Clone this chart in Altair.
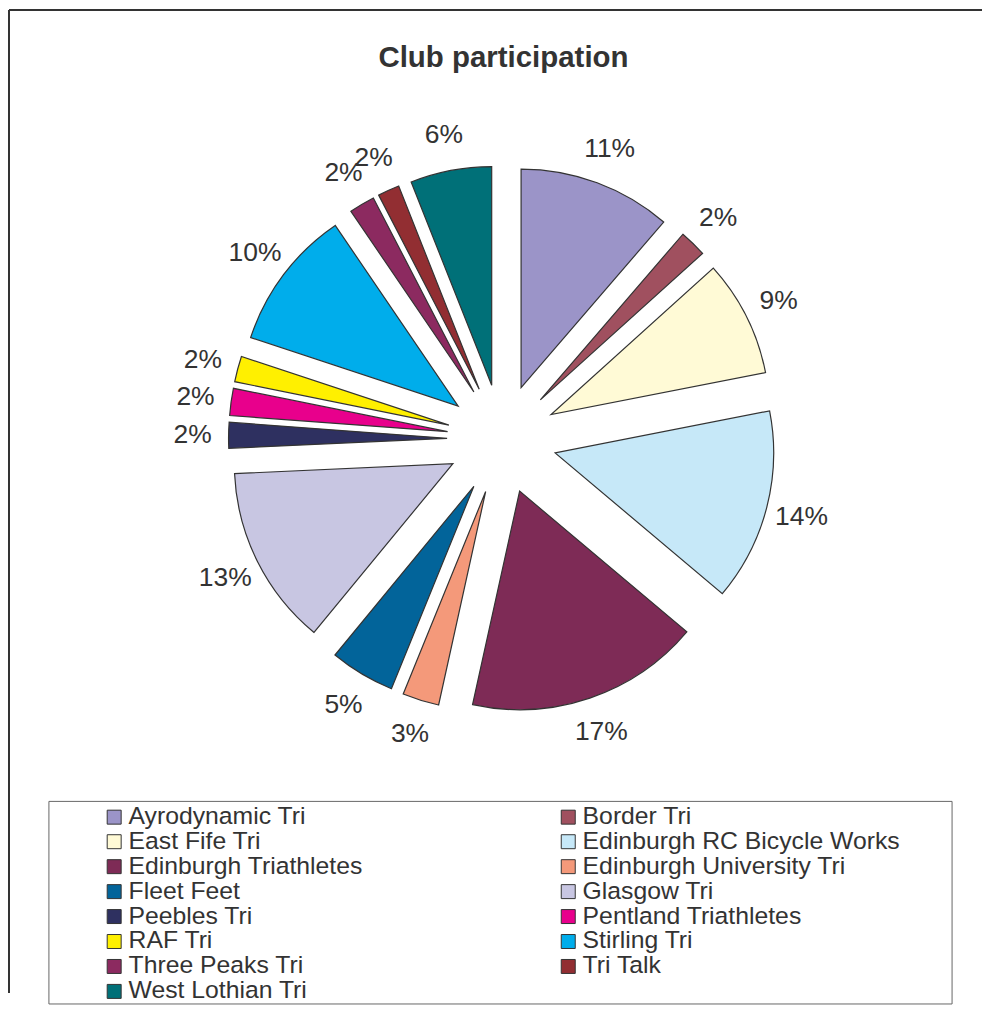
import altair as alt
import pandas as pd

# ---- data ----
clubs = [
    "Ayrodynamic Tri", "Border Tri", "East Fife Tri", "Edinburgh RC Bicycle Works",
    "Edinburgh Triathletes", "Edinburgh University Tri", "Fleet Feet", "Glasgow Tri",
    "Peebles Tri", "Pentland Triathletes", "RAF Tri", "Stirling Tri",
    "Three Peaks Tri", "Tri Talk", "West Lothian Tri",
]
values = [11.3, 2.0, 8.6, 14.2, 17.3, 2.7, 4.8, 13.3, 1.9, 2.0, 1.9, 10.4, 1.9, 1.6, 6.0]
colors = [
    "#9b94c8", "#a0505f", "#fffad6", "#c6e8f8", "#7e2b56", "#f4997a", "#02649a",
    "#c8c6e2", "#2e3060", "#e8008c", "#fff000", "#00adeb", "#8c2a60", "#922e32", "#007078",
]
title_text = "Club participation"

# legend is filled column by column, the reference reads row by row (2 columns)
legend_order = clubs[0::2] + clubs[1::2]
legend_colors = [colors[clubs.index(c)] for c in legend_order]

df = pd.DataFrame({"club": clubs, "value": values, "order": list(range(len(clubs)))})

# ---- layout constants ----
W, H = 975, 985
CX, CY = 494, 430      # pie centre inside the plot area
EXPLODE = 55           # slice explosion distance
R = 219                # slice radius
LABEL_R = 255          # label distance from slice apex
TEXT = "#333333"

base = (
    alt.Chart(df)
    .transform_joinaggregate(total="sum(value)")
    .transform_window(cum="sum(value)", sort=[alt.SortField("order", order="ascending")])
    .transform_calculate(
        t0="2*PI*(datum.cum - datum.value)/datum.total",
        t1="2*PI*datum.cum/datum.total",
        mid="PI*(2*datum.cum - datum.value)/datum.total",
        pct="datum.value/datum.total",
    )
    .transform_calculate(
        ax=f"{CX} + {EXPLODE}*sin(datum.mid)",
        ay=f"{CY} - {EXPLODE}*cos(datum.mid)",
    )
    .transform_calculate(
        lx=f"datum.ax + {LABEL_R}*sin(datum.mid)",
        ly=f"datum.ay - {LABEL_R}*cos(datum.mid)",
    )
)

arcs = base.mark_arc(outerRadius=R, stroke="#333333", strokeWidth=1.2).encode(
    x=alt.X("ax:Q", scale=None),
    y=alt.Y("ay:Q", scale=None),
    theta=alt.Theta("t0:Q", scale=None),
    theta2=alt.Theta2("t1:Q"),
    color=alt.Color(
        "club:N",
        sort=legend_order,
        scale=alt.Scale(domain=legend_order, range=legend_colors),
        legend=alt.Legend(
            title=None,
            orient="none",
            legendX=93,
            legendY=796,
            columns=2,
            columnPadding=193,
            rowPadding=-2,
            padding=0,
            symbolType="square",
            symbolSize=196,
            symbolStrokeColor="#333333",
            symbolStrokeWidth=1,
            symbolOpacity=1,
            labelFont="Liberation Sans",
            labelFontSize=24.8,
            labelColor=TEXT,
            labelOffset=2,
            labelLimit=500,
        ),
    ),
    order=alt.Order("order:Q"),
)

labels = base.mark_text(
    font="Liberation Sans", fontSize=26.5, color=TEXT, align="center", baseline="middle"
).encode(
    x=alt.X("lx:Q", scale=None),
    y=alt.Y("ly:Q", scale=None),
    text=alt.Text("pct:Q", format=".0%"),
)

one = pd.DataFrame({"k": [0]})
legend_box = alt.Chart(one).mark_rect(fill="white", stroke="#666666", strokeWidth=1).encode(
    x=alt.value(40), x2=alt.value(945), y=alt.value(793), y2=alt.value(996)
)
frame_left = alt.Chart(one).mark_rule(color="#333333", strokeWidth=2).encode(
    x=alt.value(0), y=alt.value(0), y2=alt.value(H)
)
frame_top = alt.Chart(one).mark_rule(color="#333333", strokeWidth=2).encode(
    x=alt.value(0), x2=alt.value(W), y=alt.value(0)
)

chart = (
    alt.layer(frame_left, frame_top, legend_box, arcs, labels)
    .properties(
        width=W,
        height=H,
        padding=0,
        title=alt.TitleParams(
            title_text,
            font="Liberation Sans",
            fontSize=29.5,
            fontWeight="bold",
            color=TEXT,
            anchor="middle",
            frame="group",
            baseline="alphabetic",
            offset=-56,
            dx=8,
            dy=32,
        ),
    )
    .configure_view(stroke="transparent")
)

chart.save("out.html", embed_options={"renderer": "svg", "actions": False})
